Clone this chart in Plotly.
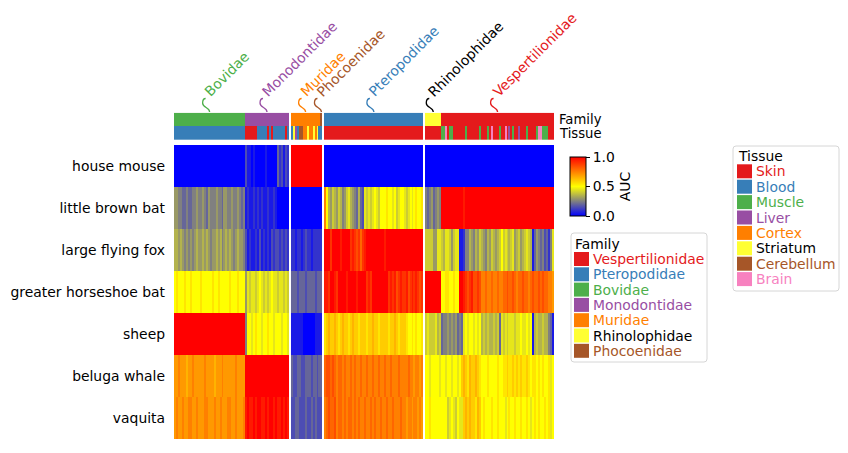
import plotly.graph_objects as go

W, H = 848, 453

# ---------------- data ----------------
species = ["house mouse", "little brown bat", "large flying fox",
           "greater horseshoe bat", "sheep", "beluga whale", "vaquita"]

family_order = ["Bovidae", "Monodontidae", "Muridae", "Phocoenidae",
                "Pteropodidae", "Rhinolophidae", "Vespertilionidae"]
family_columns = [36, 22, 15, 1, 50, 8, 57]
split_after = ["Monodontidae", "Phocoenidae", "Pteropodidae"]

legend_family_order = ["Vespertilionidae", "Pteropodidae", "Bovidae", "Monodontidae",
                       "Muridae", "Rhinolophidae", "Phocoenidae"]
tissues = ["Skin", "Blood", "Muscle", "Liver", "Cortex", "Striatum", "Cerebellum", "Brain"]
palette = ["#e41a1c", "#377eb8", "#4daf4a", "#984ea3", "#ff7f00", "#ffff33", "#a65628", "#f781bf"]

# AUC codes: character index in LEVELS / 20  (0 -> 0.0, A -> 0.5, K -> 1.0)
LEVELS = "0123456789ABCDEFGHIJK"

# one string per family (family_order), one column per sample
house_mouse = [
    "000000000000000000000000000000000000",
    "3110100000100000423132",
    "KKKKKKKKKKKKKKK", "K",
    "00000000000000000000000000000000000000000000000000",
    "00000000",
    "000000000000000000000000000000000000000000000000000000000",
]
little_brown_bat = [
    "665544544556556546555655466556556545",
    "1211212121121121000000",
    "000000000000000", "0",
    "FA76876875" "6897654743" "98989A98AA" "ABAA9A89AA" "989A9ABAAB",
    "54564565",
    "KKKKKKKKKKKJKKKKKKKKKKKKKKKKKKKKKKKKKKKKKKKKKKKKKKKKKKKKK",
]
large_flying_fox = [
    "776765656567667676566767567676567665",
    "3121121312121323323232",
    "221221232212222", "2",
    "KKKIKKKKJKKKKIJIHIGIJKKKKKKKKKJKKKKKKKKKKKKKKKKKKK",
    "88886699",
    "8799868991" "1255765768" "7657687678" "A898789678" "6789871465" "4534259",
]
greater_horseshoe_bat = [
    "ABAAABAABAAAABAAAAABAABAAAAABAAABAAA",
    "6989989A98989A99899898",
    "444344434444344", "4",
    "JJIKKJIKKK" "KJKKKKJKKK" "KIJIKKKKKK" "KKIJIJHIJI" "IJHIJIJIHI",
    "KKKKKKKK",
    "AABBAABAAK" "KJIHIJHHIH" "FFGFFGFFGF" "FGGHGGHGFG" "GHGGFGHGGH" "GHGGFFE",
]
sheep = [
    "KKKKKKKKKKKKKKKKKKKKKKKKKKKKKKKKKKKK",
    "5AA9ABAA9AABAA9AAA9AA9",
    "111111000000111", "1",
    "BCDCCDCBCD" "CCBCDCCBCC" "CBCCDCCBCC" "CCBCCDCBCC" "CBAABABAAB",
    "89888978",
    "4556565645" "49A9AA9A9A" "7878778784" "9898999899" "A99A9A1787" "7877541",
]
beluga_whale = [
    "EEFEEEDEEFEEEEEFEEEEDEEEFEEEEEEFEEEE",
    "KKKKKKKKKKKKKKKKKKKKKK",
    "433443344434434", "4",
    "GHHGHGFGGF" "GFFGFGFFGF" "FGFFGFFGFF" "GFFGFFFGFF" "FFGFFEFFEF",
    "AA9AAAA9",
    "AA9AA9AA9A" "CDCBDCCDCB" "AAABAAAABA" "ABBCBBCBCB" "CBBCBABBAB" "ABAAB9A",
]
vaquita = [
    "EFEEFEEFFEEFEEEFFEEEFEEFEEEFFEEFEEEF",
    "JKJJKJKKJJKJKKJKJJKJKJ",
    "334433343343433", "3",
    "FGHGGHFGGF" "GFGGFGFGFF" "GFFGFGFFGF" "FGFFGFFFGF" "FEFFEFFEFE",
    "AABAAAAA",
    "AAA89A98A9" "9CDCDCCBDC" "ABAAABAABA" "AA9ABAABAA" "BAABA9ABAB" "AABAB9A",
]
auc_rows = [house_mouse, little_brown_bat, large_flying_fox, greater_horseshoe_bat,
            sheep, beluga_whale, vaquita]

# tissue of each sample (index into tissues), one string per family
tissue_codes = [
    "111111111111111111111111111111111111",
    "0000001111101011111101",
    "153166445445451", "1",
    "00000000000000000000000000000000000000000000000000",
    "00000000",
    "227022" "000000" "2" "000000" "2" "000" "2" "0" "7" "000" "2" "00" "7" "0" "3" "0"
    "2" "00" "3" "000" "2" "0000" "277222" "000",
]

# ---------------- layout helpers ----------------
def px(x):
    return x / W

def py(y):
    return 1 - y / H

def fit(s, n):
    s = s[:n]
    return s + s[-1] * (n - len(s))

# column positions (with a white gap column between clusters)
pos = 0
fam_slots = []
fam_center = {}
for f, n in zip(family_order, family_columns):
    start = pos
    fam_slots.append(list(range(pos, pos + n)))
    pos += n
    fam_center[f] = (start + pos - 1) / 2
    if f in split_after:
        pos += 1
ncol = pos
xs = list(range(ncol))

z = []
for row in auc_rows:
    zr = [None] * ncol
    for slots, s in zip(fam_slots, row):
        s = fit(s, len(slots))
        for c, ch in zip(slots, s):
            zr[c] = LEVELS.index(ch) / 20
    z.append(zr)

fam_z = [None] * ncol
tis_z = [None] * ncol
for f, slots, s in zip(family_order, fam_slots, tissue_codes):
    s = fit(s, len(slots))
    for c, ch in zip(slots, s):
        fam_z[c] = legend_family_order.index(f)
        tis_z[c] = int(ch)

auc_scale = [[0.0, "#0000ff"], [0.25, "#808080"], [0.5, "#ffff00"], [1.0, "#ff0000"]]
disc_scale = []
for i, c in enumerate(palette):
    disc_scale += [[i / len(palette), c], [(i + 1) / len(palette), c]]

FONT = "DejaVu Sans"
FS = 13.9

X0, X1 = 174, 554
fig = go.Figure()
fig.add_trace(go.Heatmap(
    z=z, x=xs, y=species, colorscale=auc_scale, zmin=0, zmax=1,
    xaxis="x", yaxis="y", hoverongaps=False,
    colorbar=dict(
        x=px(570), xanchor="left", xpad=0, y=py(186.5), yanchor="middle", ypad=0,
        lenmode="pixels", len=59, thicknessmode="pixels", thickness=16,
        outlinewidth=1, outlinecolor="black",
        ticks="outside", ticklen=4, tickwidth=1, tickcolor="black",
        tickvals=[0, 0.5, 1], ticktext=["0.0", "0.5", "1.0"],
        tickfont=dict(family=FONT, size=FS, color="black"),
        title=dict(text="AUC", side="right", font=dict(family=FONT, size=FS, color="black")),
    ),
))
fig.add_trace(go.Heatmap(
    z=[fam_z, tis_z], x=xs, y=["Family", "Tissue"], colorscale=disc_scale,
    zmin=-0.5, zmax=len(palette) - 0.5, showscale=False,
    xaxis="x2", yaxis="y2", hoverongaps=False,
))

shapes = []
annotations = []

# family labels with connectors
colw = (X1 - X0) / ncol
d = 1 / colw
for i, f in enumerate(legend_family_order):
    c = fam_center[f]
    col = "black" if f == "Rhinolophidae" else palette[i]
    path = (f"M {c},{py(112)} C {c},{py(107)} {c-7*d},{py(108)} {c-7*d},{py(103)} "
            f"C {c-7*d},{py(100)} {c-6*d},{py(98.5)} {c-4*d},{py(98.5)}")
    shapes.append(dict(type="path", path=path, xref="x", yref="paper",
                       line=dict(color=col, width=1.3)))
    annotations.append(dict(text=f, x=c - 11 * d, y=py(102.5), xref="x", yref="paper",
                            xanchor="left", yanchor="bottom", textangle=-45, showarrow=False,
                            font=dict(family=FONT, size=FS, color=col)))

# row labels of the annotation strip
for lab, yc in [("Family", 119.3), ("Tissue", 133.8)]:
    annotations.append(dict(text=lab, x=px(558), y=py(yc), xref="paper", yref="paper",
                            xanchor="left", yanchor="middle", showarrow=False, borderpad=0,
                            font=dict(family=FONT, size=13.2, color="black")))

def rounded_box(x0, y0, x1, y1, r=3):
    rx, ry = r / W, r / H
    X0_, X1_, Y0_, Y1_ = px(x0), px(x1), py(y1), py(y0)
    return (f"M {X0_+rx},{Y0_} L {X1_-rx},{Y0_} Q {X1_},{Y0_} {X1_},{Y0_+ry} "
            f"L {X1_},{Y1_-ry} Q {X1_},{Y1_} {X1_-rx},{Y1_} L {X0_+rx},{Y1_} "
            f"Q {X0_},{Y1_} {X0_},{Y1_-ry} L {X0_},{Y0_+ry} Q {X0_},{Y0_} {X0_+rx},{Y0_} Z")

def legend(title, names, colors, bx0, by0, bx1, by1, title_y, first_y, step, sq_x):
    shapes.append(dict(type="path", path=rounded_box(bx0, by0, bx1, by1), xref="paper", yref="paper",
                       line=dict(color="#d6d6d6", width=1), fillcolor="rgba(255,255,255,0.8)", layer="above"))
    annotations.append(dict(text=title, x=px(sq_x - 1), y=py(title_y), xref="paper", yref="paper",
                            xanchor="left", yanchor="middle", showarrow=False,
                            font=dict(family=FONT, size=FS, color="black")))
    for k, (nm, colr) in enumerate(zip(names, colors)):
        yc = first_y + k * step
        shapes.append(dict(type="rect", x0=px(sq_x), x1=px(sq_x + 15), y0=py(yc + 7), y1=py(yc - 7),
                           xref="paper", yref="paper", fillcolor=colr, line=dict(width=0), layer="above"))
        tc = "black" if colr == "#ffff33" else colr
        annotations.append(dict(text=nm, x=px(sq_x + 17), y=py(yc), xref="paper", yref="paper",
                                xanchor="left", yanchor="middle", showarrow=False,
                                font=dict(family=FONT, size=FS, color=tc)))

legend("Family", legend_family_order, palette[:len(legend_family_order)],
       571, 233, 707, 362, 243.7, 259, 15.3, 574)
legend("Tissue", tissues, palette, 733, 146, 839, 291, 156, 171.3, 15.4, 737)

fig.update_layout(
    width=W, height=H, margin=dict(l=0, r=0, t=0, b=0),
    paper_bgcolor="white", plot_bgcolor="white",
    font=dict(family=FONT, size=FS, color="black"),
    shapes=shapes, annotations=annotations,
    xaxis=dict(domain=[px(X0), px(X1)], range=[-0.5, ncol - 0.5], visible=False, anchor="y"),
    yaxis=dict(domain=[py(439), py(145)], autorange="reversed", anchor="x",
               showgrid=False, zeroline=False, ticks="", ticklabelstandoff=8,
               tickfont=dict(family=FONT, size=FS, color="black")),
    xaxis2=dict(domain=[px(X0), px(X1)], range=[-0.5, ncol - 0.5], visible=False,
                anchor="y2", matches="x"),
    yaxis2=dict(domain=[py(140), py(112.7)], autorange="reversed", anchor="x2",
                visible=False),
)

fig.write_html("out.html", config={"displayModeBar": False},
               post_script="document.body.style.margin='0';")
